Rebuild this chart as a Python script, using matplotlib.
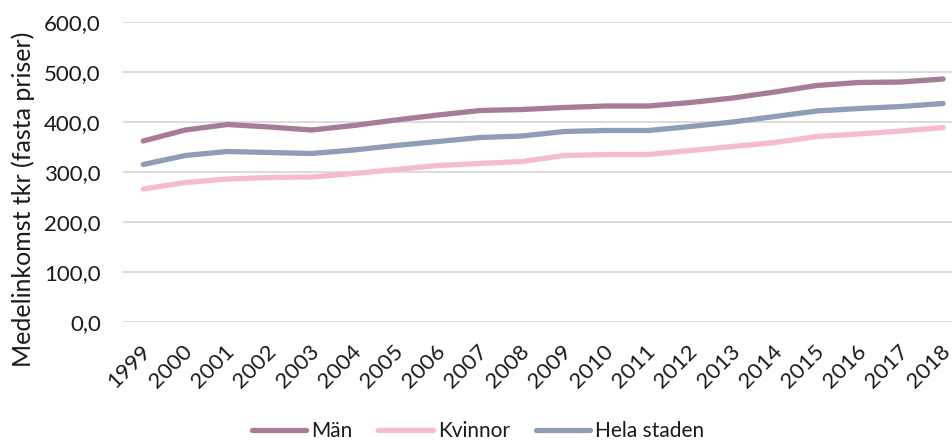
import matplotlib
matplotlib.use("Agg")
import matplotlib.pyplot as plt
import matplotlib.transforms as mtransforms

years = [str(y) for y in range(1999, 2019)]
man = [362, 384, 395, 390, 384, 393, 404, 414, 423, 425, 429, 432, 432, 439, 448, 460, 473, 479, 480, 486]
kvinnor = [266, 279, 286, 289, 290, 297, 305, 313, 317, 321, 333, 335, 335, 343, 351, 359, 371, 376, 382, 389]
hela = [315, 333, 341, 339, 337, 344, 353, 361, 369, 372, 381, 383, 383, 391, 400, 411, 422, 427, 431, 437]
yticks = [0, 100, 200, 300, 400, 500, 600]
ytick_labels = ["0,0", "100,0", "200,0", "300,0", "400,0", "500,0", "600,0"]

plt.rcParams['font.family'] = ['Lato', 'DejaVu Sans']

fig = plt.figure(figsize=(9.52, 4.41), dpi=100)
ax = fig.add_axes([123/952, 1 - 322/441, 1 - 123/952, 300/441])

x = list(range(len(years)))
ax.plot(x, man, color='#A67C96', lw=3.8, solid_capstyle='round', label='Män')
ax.plot(x, kvinnor, color='#F7BBD0', lw=3.8, solid_capstyle='round', label='Kvinnor')
ax.plot(x, hela, color='#8E9DB8', lw=3.8, solid_capstyle='round', label='Hela staden')

ax.set_ylim(0, 600)
ax.set_xlim(-0.48, 19.21)
ax.set_yticks(yticks)
ax.set_yticklabels(ytick_labels, fontsize=16, color='#1a1a1a')
ax.set_xticks(x)
ax.set_xticklabels(years, fontsize=16, rotation=45, ha='right', va='top',
                   rotation_mode='anchor', color='#1a1a1a')
ax.tick_params(axis='y', length=0, pad=16)
ax.tick_params(axis='x', length=0, pad=14)
shift = mtransforms.ScaledTranslation(-3/100, 0, fig.dpi_scale_trans)
for lbl in ax.get_xticklabels():
    lbl.set_transform(lbl.get_transform() + shift)
for s in ax.spines.values():
    s.set_visible(False)
ax.grid(axis='y', color='#D9D9D9', lw=1.3)
ax.set_axisbelow(True)
ax.set_ylabel("Medelinkomst tkr (fasta priser)", fontsize=18, color='#1a1a1a')
ax.yaxis.set_label_coords(35/952, 1 - 199/441, transform=fig.transFigure)

fig.legend(loc='center', bbox_to_anchor=(478/952, 1 - 431/441), ncol=3, frameon=False,
           fontsize=15, handlelength=2.6, columnspacing=1.25, handletextpad=0.25)
for t in fig.legends[0].get_texts():
    t.set_color('#1a1a1a')

fig.savefig("out.png", dpi=100)
